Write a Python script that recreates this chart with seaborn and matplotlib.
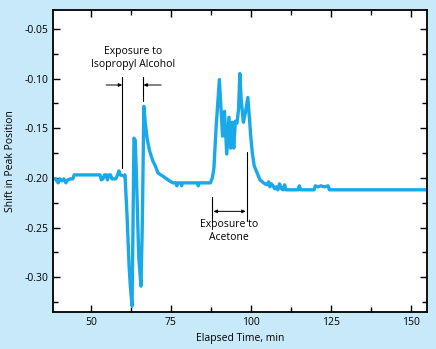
import matplotlib
matplotlib.use("Agg")
import matplotlib.pyplot as plt
from matplotlib.ticker import MultipleLocator
import seaborn as sns
import pandas as pd

# ---- data ----
time_min = [38.2, 39.0, 39.8, 40.4, 41.0, 41.6, 42.2, 42.8, 43.6, 44.4, 44.8, 46.0, 48.0, 50.0, 52.9,
            53.3, 53.8, 54.3, 54.9, 55.2, 55.6, 56.2, 56.6, 57.8, 58.4, 58.8, 59.2, 60.5,
            60.7, 61.3, 62.0, 62.4, 62.9, 63.2, 63.5, 63.9, 64.3, 65.0, 65.7, 66.1, 66.6,
            67.0, 67.6, 68.4, 69.4, 70.2, 71.0, 72.4, 74.6, 75.7, 76.6, 76.9, 77.2, 78.1, 78.4,
            78.7, 83.3, 83.6, 83.9, 87.4,
            88.0, 88.5, 89.2, 90.2, 90.7, 91.2, 91.8, 92.5, 93.2, 93.7, 94.2, 94.7, 95.2, 95.7,
            96.2, 96.6, 97.0, 97.7, 98.3, 99.1, 99.6, 100.0, 100.5, 101.1, 102.0, 102.9,
            104.0, 105.0, 105.6, 106.0, 106.5, 107.0, 107.5, 108.0, 108.5, 109.0, 109.6, 110.1,
            110.6, 111.0, 112.0, 114.8, 115.2, 115.6, 119.8, 120.2, 121.0, 122.0, 123.0, 124.2,
            124.6, 130.0, 140.0, 150.0, 155.1]
peak_shift = [-0.201, -0.201, -0.205, -0.201, -0.203, -0.201, -0.205, -0.202, -0.201, -0.201, -0.197, -0.197, -0.197, -0.197, -0.197,
              -0.202, -0.201, -0.197, -0.197, -0.202, -0.197, -0.197, -0.201, -0.201, -0.197, -0.193, -0.197, -0.198,
              -0.197, -0.235, -0.290, -0.310, -0.329, -0.250, -0.160, -0.162, -0.200, -0.280, -0.309, -0.250, -0.128,
              -0.143, -0.160, -0.173, -0.183, -0.188, -0.195, -0.198, -0.203, -0.205, -0.205, -0.208, -0.205, -0.205, -0.208,
              -0.205, -0.205, -0.208, -0.205, -0.205,
              -0.200, -0.190, -0.148, -0.101, -0.130, -0.158, -0.133, -0.176, -0.139, -0.170, -0.144, -0.170, -0.143, -0.145,
              -0.131, -0.095, -0.120, -0.144, -0.135, -0.119, -0.140, -0.158, -0.175, -0.188, -0.195, -0.202,
              -0.205, -0.207, -0.204, -0.209, -0.206, -0.208, -0.211, -0.209, -0.212, -0.206, -0.211, -0.212,
              -0.207, -0.212, -0.212, -0.212, -0.208, -0.212, -0.212, -0.208, -0.209, -0.208, -0.209, -0.208,
              -0.212, -0.212, -0.212, -0.212, -0.212]

x_ticks = [50, 75, 100, 125, 150]
y_ticks = [-0.30, -0.25, -0.20, -0.15, -0.10, -0.05]
y_tick_labels = ["-0.30", "-0.25", "-0.20", "-0.15", "-0.10", "-0.05"]

BG = "#C8E9F9"
LINE = "#1AA9E8"

sns.set_style("ticks")
plt.rcParams["font.family"] = ["Open Sans", "DejaVu Sans"]
for key in ["text.color", "axes.labelcolor", "xtick.color", "ytick.color", "axes.edgecolor"]:
    plt.rcParams[key] = "black"

fig = plt.figure(figsize=(4.36, 3.49), dpi=100, facecolor=BG)
ax = fig.add_axes([53 / 436, 37 / 349, 374 / 436, 302 / 349])
ax.set_facecolor("white")

df = pd.DataFrame({"Elapsed Time, min": time_min, "Shift in Peak Position": peak_shift})
sns.lineplot(data=df, x="Elapsed Time, min", y="Shift in Peak Position", ax=ax,
             color=LINE, linewidth=2.4, estimator=None, sort=False)

ax.set_xlim(38.2, 155.1)
ax.set_ylim(-0.335, -0.031)
ax.set_xticks(x_ticks)
ax.set_yticks(y_ticks)
ax.set_yticklabels(y_tick_labels)
ax.xaxis.set_minor_locator(MultipleLocator(12.5))
ax.yaxis.set_minor_locator(MultipleLocator(0.025))
ax.tick_params(which="both", direction="in", top=True, right=True, labelsize=7.5, width=1.0,
               color="black", labelcolor="black")
ax.tick_params(which="major", length=5)
ax.tick_params(which="minor", length=3.5)
for s in ax.spines.values():
    s.set_linewidth(1.3)
    s.set_color("black")
ax.set_xlabel("Elapsed Time, min", fontsize=7.5, labelpad=4, color="black")
ax.set_ylabel("Shift in Peak Position", fontsize=7.5, labelpad=6, color="black")

# annotations
k = "black"
ax.plot([59.9, 59.9], [-0.098, -0.1896], color=k, lw=0.8)
ax.plot([66.4, 66.4], [-0.098, -0.1226], color=k, lw=0.8)
ax.annotate("", xy=(59.8, -0.1065), xytext=(54.8, -0.1065),
            arrowprops=dict(arrowstyle="-|>", color=k, lw=0.7, mutation_scale=5, shrinkA=0, shrinkB=0))
ax.annotate("", xy=(66.5, -0.1065), xytext=(72.0, -0.1065),
            arrowprops=dict(arrowstyle="-|>", color=k, lw=0.7, mutation_scale=5, shrinkA=0, shrinkB=0))
ax.text(63.2, -0.0795, "Exposure to\nIsopropyl Alcohol", ha="center", va="center", fontsize=7.5,
        linespacing=1.25, color="black")

ax.plot([88.0, 88.0], [-0.219, -0.243], color=k, lw=0.8)
ax.plot([98.75, 98.75], [-0.174, -0.243], color=k, lw=0.8)
ax.annotate("", xy=(98.4, -0.2337), xytext=(88.4, -0.2337),
            arrowprops=dict(arrowstyle="<|-|>", color=k, lw=0.7, mutation_scale=5, shrinkA=0, shrinkB=0))
ax.text(93.2, -0.2532, "Exposure to\nAcetone", ha="center", va="center", fontsize=7.5,
        linespacing=1.25, color="black")

fig.savefig("out.png", dpi=100, facecolor=BG)
